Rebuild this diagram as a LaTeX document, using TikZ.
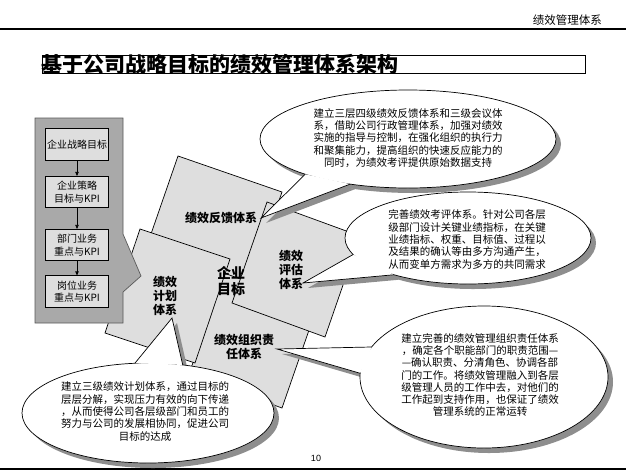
\documentclass[tikz,border=0pt]{standalone}
\usepackage{fontspec}
\newfontfamily\cjk{Noto Sans CJK SC}
\newfontfamily\latin{Liberation Sans}
\usetikzlibrary{arrows.meta,calc}
\definecolor{boxgray}{HTML}{DEDEDE}
\definecolor{panelgray}{HTML}{A9A9A9}
\definecolor{shadowc}{HTML}{8E8E8E}
\tikzset{
  rotbox/.style={fill=boxgray,draw=black,line width=0.7pt},
  lbox/.style={fill=boxgray,draw=black,line width=0.7pt,minimum width=62.6,minimum height=31.5,inner sep=0,align=center,font=\cjk\fontsize{10}{12.5}\selectfont},
  lbl/.style={font=\cjk\bfseries\fontsize{12}{14}\selectfont,align=center,inner sep=0},
  ctext/.style={font=\cjk\fontsize{10.5}{12.3}\selectfont,align=center,inner sep=0},
  bubble/.style={fill=white,draw=black,line width=0.7pt},
  arr/.style={-{Triangle[length=4pt,width=3.5pt]},line width=0.7pt}
}
\begin{document}
\begin{tikzpicture}[x=1pt,y=-1pt,line join=miter]
\useasboundingbox (0,0) rectangle (626,472);
% header and footer
\node[font=\cjk\fontsize{11.5}{13}\selectfont,anchor=east,inner sep=0] (hdr) at (602,20) {绩效管理体系};
\draw[line width=1.2pt] (0,29) -- (626,29);
\draw[line width=1.4pt] (0,469) -- (626,469);
\node[font=\latin\fontsize{9}{10}\selectfont,inner sep=0] (pg) at (316,458) {10};
% title
\draw[line width=0.8pt] (42,55) rectangle (585,73);
\node[anchor=west,font=\cjk\bfseries\fontsize{21}{21}\selectfont,inner sep=0] (title) at (41,64) {基于公司战略目标的绩效管理体系架构};
% central rotated boxes
\filldraw[rotbox] (178,156) -- (282,192) -- (246,296) -- (142,260) -- cycle;
\filldraw[rotbox] (224,273) -- (317,307) -- (282,408) -- (189,374) -- cycle;
\filldraw[rotbox] (267,202) -- (360,236) -- (325,337) -- (232,303) -- cycle;
\filldraw[rotbox] (140,229) -- (230,259) -- (195,363) -- (105,333) -- cycle;
% left panel
\filldraw[fill=panelgray,draw=black!65,line width=0.7pt] (35,118) -- (123,118) -- (123,234) -- (141,276) -- (123,292) -- (123,323) -- (35,323) -- cycle;
\node[lbox] (k1) at (77,144.5) {企业战略目标};
\node[lbox] (k2) at (77,192) {企业策略\\目标与KPI};
\node[lbox] (k3) at (77,245) {部门业务\\重点与KPI};
\node[lbox] (k4) at (77,291.5) {岗位业务\\重点与KPI};
\draw[arr] (k1) -- (k2);
\draw[arr] (k2) -- (k3);
\draw[arr] (k3) -- (k4);
% labels
\node[lbl] (fbk) at (221,218) {绩效反馈体系};
\node[lbl] (plan) at (165,296) {绩效\\计划\\体系};
\node[font=\cjk\bfseries\fontsize{14}{15.5}\selectfont,align=center,inner sep=0] (core) at (231,281) {企业\\目标};
\node[lbl] (eval) at (291,270) {绩效\\评估\\体系};
\node[lbl,font=\cjk\bfseries\fontsize{12}{13.5}\selectfont] (org) at (244,347) {绩效组织责\\任体系};
% callout 1 (feedback)
\coordinate (c1) at (408,139);
\coordinate (t1) at (261,218);
\coordinate (a1) at ($(c1)+(134:148 and 49)$);
\coordinate (b1) at ($(c1)+(113:148 and 49)$);
\fill[shadowc] ($(c1)+(5,5)$) ellipse [x radius=148,y radius=49];
\fill[shadowc] ($(t1)+(5,5)$) -- ($(a1)+(5,5)$) -- ($(b1)+(5,5)$) -- cycle;
\filldraw[bubble] (c1) ellipse [x radius=148,y radius=49];
\fill[white] (t1) -- (a1) -- (b1) -- cycle;
\draw[line width=0.7pt] (a1) -- (t1) -- (b1);
\node[ctext] (x1) at (408,138) {建立三层四级绩效反馈体系和三级会议体\\系，借助公司行政管理体系，加强对绩效\\实施的指导与控制，在强化组织的执行力\\和聚集能力，提高组织的快速反应能力的\\同时，为绩效考评提供原始数据支持};
% callout 2 (evaluation)
\coordinate (c2) at (468,238);
\coordinate (t2) at (303,283);
\coordinate (a2) at ($(c2)+(159:123 and 46)$);
\coordinate (b2) at ($(c2)+(127:123 and 46)$);
\fill[shadowc] ($(c2)+(5,5)$) ellipse [x radius=123,y radius=46];
\fill[shadowc] ($(t2)+(5,5)$) -- ($(a2)+(5,5)$) -- ($(b2)+(5,5)$) -- cycle;
\filldraw[bubble] (c2) ellipse [x radius=123,y radius=46];
\fill[white] (t2) -- (a2) -- (b2) -- cycle;
\draw[line width=0.7pt] (a2) -- (t2) -- (b2);
\node[ctext] (x2) at (467,239.5) {完善绩效考评体系。针对公司各层\\级部门设计关键业绩指标，在关键\\业绩指标、权重、目标值、过程以\\及结果的确认等由多方沟通产生，\\从而变单方需求为多方的共同需求};
% callout 3 (organisation)
\coordinate (c3) at (484,377);
\coordinate (t3) at (277,349);
\coordinate (a3) at ($(c3)+(205:124 and 71)$);
\coordinate (b3) at ($(c3)+(183:124 and 71)$);
\fill[shadowc] ($(c3)+(5,5)$) ellipse [x radius=124,y radius=71];
\fill[shadowc] ($(t3)+(5,5)$) -- ($(a3)+(5,5)$) -- ($(b3)+(5,5)$) -- cycle;
\filldraw[bubble] (c3) ellipse [x radius=124,y radius=71];
\fill[white] (t3) -- (a3) -- (b3) -- cycle;
\draw[line width=0.7pt] (a3) -- (t3) -- (b3);
\node[ctext] (x3) at (480,375) {建立完善的绩效管理组织责任体系\\，确定各个职能部门的职责范围—\\—确认职责、分清角色、协调各部\\门的工作。将绩效管理融入到各层\\级管理人员的工作中去，对他们的\\工作起到支持作用，也保证了绩效\\管理系统的正常运转};
% callout 4 (planning)
\coordinate (c4) at (148,413);
\coordinate (t4) at (172,318);
\coordinate (a4) at ($(c4)+(264:126 and 50)$);
\coordinate (b4) at ($(c4)+(286:126 and 50)$);
\fill[shadowc] ($(c4)+(5,5)$) ellipse [x radius=126,y radius=50];
\fill[shadowc] ($(t4)+(5,5)$) -- ($(a4)+(5,5)$) -- ($(b4)+(5,5)$) -- cycle;
\filldraw[bubble] (c4) ellipse [x radius=126,y radius=50];
\fill[white] (t4) -- (a4) -- (b4) -- cycle;
\draw[line width=0.7pt] (a4) -- (t4) -- (b4);
\node[ctext] (x4) at (145,411.5) {建立三级绩效计划体系，通过目标的\\层层分解，实现压力有效的向下传递\\，从而使得公司各层级部门和员工的\\努力与公司的发展相协同，促进公司\\目标的达成};
\end{tikzpicture}
\end{document}
